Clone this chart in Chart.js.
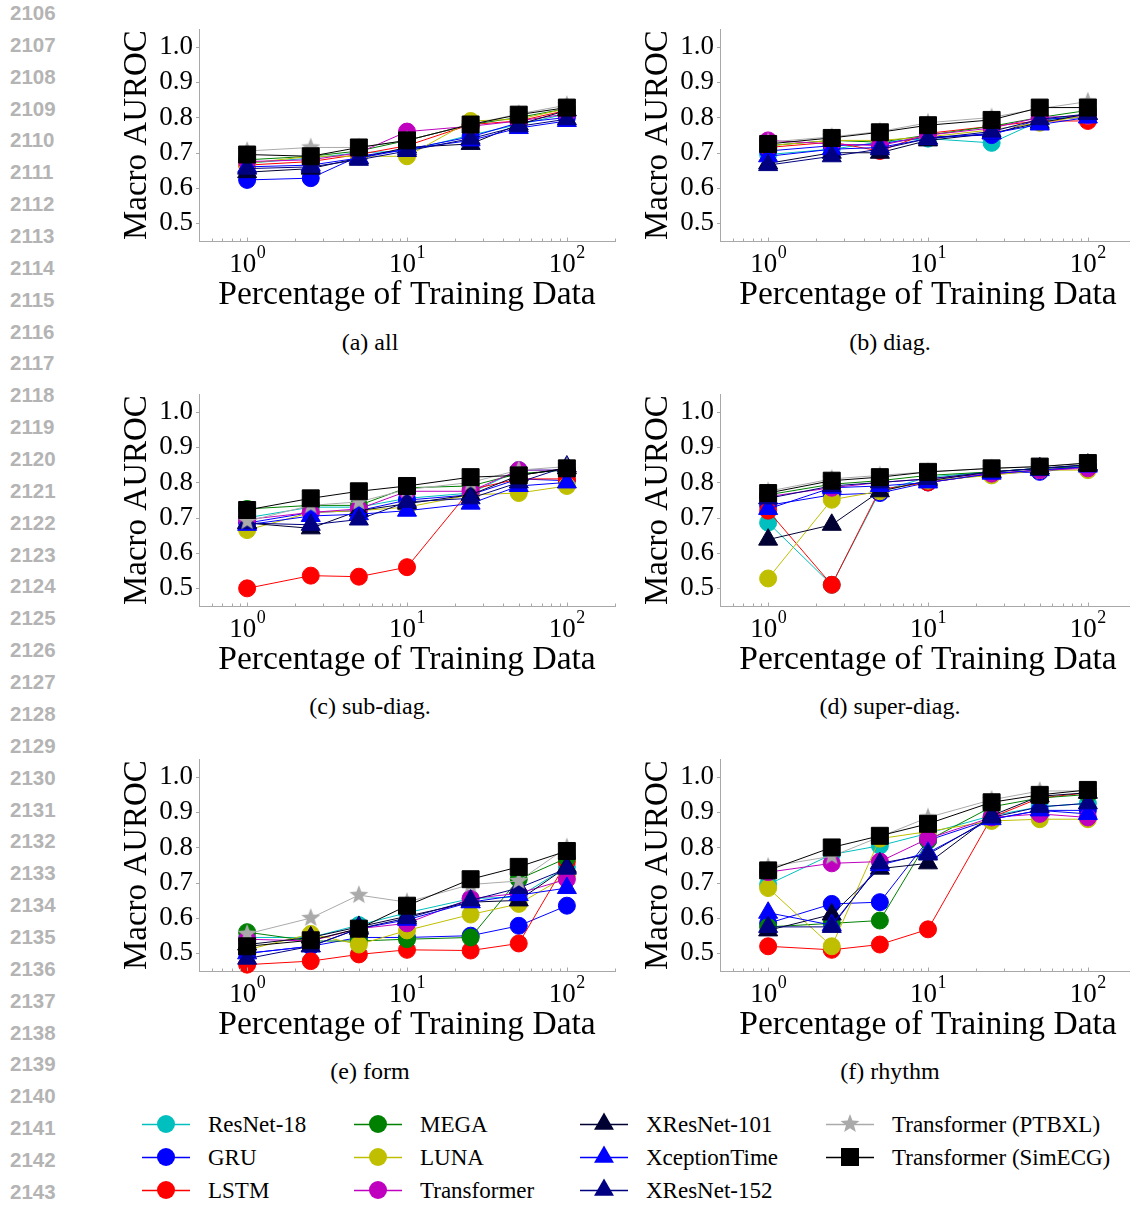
<!DOCTYPE html>
<html>
<head>
<meta charset="utf-8">
<script src="https://cdn.jsdelivr.net/npm/chart.js@4.4.0/dist/chart.umd.min.js"></script>
<style>
  html, body { margin: 0; padding: 0; width: 1130px; height: 1205px; overflow: hidden; background: #fff; }
  canvas.panel { position: absolute; }
  .caption { position: absolute; font-family: 'Liberation Serif', 'Times New Roman', serif; font-size: 24px;
             transform: translate(-50%, -50%); white-space: nowrap; line-height: 1; color: #000; }
  .lineno { position: absolute; left: 10px; font-family: 'Liberation Sans', Arial, sans-serif; font-weight: bold;
            font-size: 20.5px; color: #b4b4b4; line-height: 1; transform: translateY(-50%); }
  .legend-icon { position: absolute; }
  .legend-text { position: absolute; font-family: 'Liberation Serif', 'Times New Roman', serif; font-size: 23px;
                 transform: translateY(-50%); white-space: nowrap; line-height: 1; }
</style>
</head>
<body>
<canvas id="pAll" class="panel" width="520" height="320" style="left:115px;top:7px"></canvas>
<canvas id="pDiag" class="panel" width="520" height="320" style="left:636px;top:7px"></canvas>
<canvas id="pSub" class="panel" width="520" height="320" style="left:115px;top:372px"></canvas>
<canvas id="pSuper" class="panel" width="520" height="320" style="left:636px;top:372px"></canvas>
<canvas id="pForm" class="panel" width="520" height="320" style="left:115px;top:737px"></canvas>
<canvas id="pRhythm" class="panel" width="520" height="320" style="left:636px;top:737px"></canvas>

<div class="caption" style="left:370px;top:342px">(a) all</div>
<div class="caption" style="left:890px;top:342px">(b) diag.</div>
<div class="caption" style="left:370px;top:706px">(c) sub-diag.</div>
<div class="caption" style="left:890px;top:706px">(d) super-diag.</div>
<div class="caption" style="left:370px;top:1071px">(e) form</div>
<div class="caption" style="left:890px;top:1071px">(f) rhythm</div>

<div id="legend"></div>
<div id="linenos"></div>

<script>
// x positions (percentage of training data)
const percentages = [1, 2.5, 5, 10, 25, 50, 100];

const models = ['ResNet-18', 'GRU', 'LSTM', 'MEGA', 'LUNA', 'Transformer',
                'XResNet-101', 'XceptionTime', 'XResNet-152',
                'Transformer (PTBXL)', 'Transformer (SimECG)'];

const yTickValues = [0.5, 0.6, 0.7, 0.8, 0.9, 1.0];
const xTickValues = [1, 10, 100];

// macro AUROC per model (rows in the order of `models`)
const aucAll = [
    [0.67, 0.685, 0.70, 0.705, 0.75, 0.78, 0.81],
    [0.623, 0.628, 0.69, 0.71, 0.745, 0.785, 0.80],
    [0.665, 0.675, 0.695, 0.72, 0.78, 0.79, 0.82],
    [0.68, 0.69, 0.705, 0.735, 0.78, 0.80, 0.825],
    [0.67, 0.69, 0.69, 0.69, 0.79, 0.795, 0.825],
    [0.675, 0.68, 0.70, 0.76, 0.775, 0.79, 0.81],
    [0.645, 0.655, 0.685, 0.715, 0.725, 0.78, 0.82],
    [0.66, 0.665, 0.685, 0.71, 0.735, 0.77, 0.79],
    [0.655, 0.66, 0.68, 0.705, 0.74, 0.775, 0.795],
    [0.705, 0.715, 0.715, 0.735, 0.78, 0.81, 0.835],
    [0.695, 0.69, 0.715, 0.735, 0.78, 0.808, 0.828]
];

const aucDiag = [
    [0.695, 0.71, 0.73, 0.74, 0.728, 0.79, 0.81],
    [0.705, 0.72, 0.725, 0.745, 0.75, 0.795, 0.80],
    [0.715, 0.73, 0.705, 0.755, 0.775, 0.79, 0.79],
    [0.72, 0.735, 0.73, 0.75, 0.775, 0.80, 0.82],
    [0.72, 0.735, 0.735, 0.745, 0.765, 0.785, 0.805],
    [0.735, 0.725, 0.72, 0.75, 0.77, 0.80, 0.805],
    [0.67, 0.70, 0.70, 0.735, 0.755, 0.785, 0.81],
    [0.69, 0.71, 0.715, 0.74, 0.755, 0.78, 0.80],
    [0.665, 0.69, 0.71, 0.74, 0.76, 0.795, 0.81],
    [0.73, 0.745, 0.76, 0.785, 0.80, 0.825, 0.845],
    [0.725, 0.742, 0.758, 0.778, 0.793, 0.828, 0.828]
];

const aucSubDiag = [
    [0.70, 0.73, 0.73, 0.755, 0.77, 0.835, 0.835],
    [0.685, 0.715, 0.72, 0.75, 0.765, 0.81, 0.805],
    [0.50, 0.536, 0.533, 0.56, 0.78, 0.81, 0.81],
    [0.725, 0.735, 0.735, 0.785, 0.79, 0.825, 0.835],
    [0.665, 0.715, 0.72, 0.73, 0.765, 0.77, 0.79],
    [0.695, 0.715, 0.725, 0.775, 0.775, 0.835, 0.835],
    [0.685, 0.67, 0.72, 0.74, 0.765, 0.82, 0.84],
    [0.68, 0.705, 0.71, 0.72, 0.74, 0.79, 0.80],
    [0.685, 0.68, 0.695, 0.745, 0.755, 0.80, 0.845],
    [0.69, 0.735, 0.745, 0.78, 0.80, 0.835, 0.845],
    [0.722, 0.755, 0.775, 0.79, 0.815, 0.82, 0.84]
];

const aucSuperDiag = [
    [0.686, 0.51, 0.775, 0.815, 0.83, 0.84, 0.845],
    [0.735, 0.765, 0.77, 0.80, 0.825, 0.83, 0.845],
    [0.72, 0.51, 0.78, 0.80, 0.825, 0.835, 0.845],
    [0.765, 0.795, 0.805, 0.82, 0.83, 0.84, 0.845],
    [0.528, 0.751, 0.775, 0.805, 0.82, 0.835, 0.835],
    [0.76, 0.785, 0.80, 0.81, 0.825, 0.835, 0.84],
    [0.638, 0.68, 0.775, 0.805, 0.83, 0.84, 0.85],
    [0.725, 0.785, 0.79, 0.80, 0.825, 0.835, 0.845],
    [0.755, 0.79, 0.80, 0.81, 0.83, 0.84, 0.85],
    [0.775, 0.81, 0.82, 0.83, 0.84, 0.845, 0.855],
    [0.77, 0.805, 0.815, 0.83, 0.84, 0.845, 0.855]
];

const aucForm = [
    [0.545, 0.545, 0.58, 0.615, 0.655, 0.66, 0.745],
    [0.50, 0.52, 0.545, 0.545, 0.55, 0.578, 0.635],
    [0.468, 0.478, 0.497, 0.51, 0.508, 0.528, 0.76],
    [0.56, 0.535, 0.535, 0.54, 0.545, 0.71, 0.77],
    [0.51, 0.555, 0.525, 0.565, 0.61, 0.64, 0.72],
    [0.54, 0.535, 0.57, 0.585, 0.655, 0.67, 0.71],
    [0.525, 0.545, 0.575, 0.605, 0.645, 0.65, 0.745],
    [0.50, 0.52, 0.57, 0.595, 0.645, 0.665, 0.685],
    [0.485, 0.52, 0.57, 0.60, 0.65, 0.685, 0.74],
    [0.555, 0.60, 0.665, 0.645, 0.695, 0.705, 0.80],
    [0.52, 0.537, 0.57, 0.635, 0.71, 0.745, 0.79]
];

const aucRhythm = [
    [0.695, 0.78, 0.805, 0.84, 0.89, 0.915, 0.925],
    [0.585, 0.64, 0.645, 0.82, 0.88, 0.905, 0.905],
    [0.52, 0.51, 0.525, 0.568, 0.885, 0.94, 0.955],
    [0.575, 0.585, 0.593, 0.82, 0.915, 0.94, 0.95],
    [0.685, 0.52, 0.825, 0.845, 0.875, 0.88, 0.88],
    [0.73, 0.755, 0.76, 0.825, 0.885, 0.895, 0.885],
    [0.565, 0.61, 0.74, 0.755, 0.89, 0.945, 0.955],
    [0.615, 0.58, 0.75, 0.785, 0.88, 0.905, 0.895],
    [0.575, 0.575, 0.755, 0.78, 0.885, 0.915, 0.925],
    [0.745, 0.775, 0.83, 0.885, 0.935, 0.96, 0.96],
    [0.735, 0.80, 0.833, 0.867, 0.928, 0.949, 0.963]
];

const colors = ['#00bfbf', '#0000ff', '#ff0000', '#008000', '#bfbf00', '#bf00bf',
                '#000033', '#0000ff', '#000080', '#aaaaaa', '#000000'];
const markerKinds = ['circle', 'circle', 'circle', 'circle', 'circle', 'circle',
                     'triangle', 'triangle', 'triangle', 'star', 'rect'];
const markerRadius = { circle: 8.5, triangle: 11, rect: 12, star: 10 };

const serif = "'Liberation Serif', 'Times New Roman', serif";
const axisColor = '#a8a8a8';

function starImage(color, r) {
    const c = document.createElement('canvas');
    const s = Math.ceil(r * 2 + 2);
    c.width = s; c.height = s;
    const g = c.getContext('2d');
    g.fillStyle = color;
    g.beginPath();
    for (let k = 0; k < 10; k++) {
        const rad = k % 2 === 0 ? r : r * 0.42;
        const a = -Math.PI / 2 + k * Math.PI / 5;
        g.lineTo(s / 2 + rad * Math.cos(a), s / 2 + rad * Math.sin(a));
    }
    g.closePath();
    g.fill();
    return c;
}
const star = starImage('#aaaaaa', markerRadius.star);

// minor ticks on the log axis
const xMinor = [];
for (let e = -1; e <= 2; e++) {
    for (let m = 1; m <= 9; m++) {
        const v = m * Math.pow(10, e);
        if (v >= 0.5 && v <= 200) xMinor.push(v);
    }
}

// inward x ticks, outward y ticks, and 10^n labels with a raised exponent
const axisDecor = {
    id: 'axisDecor',
    afterDraw(chart) {
        const { ctx, chartArea, scales } = chart;
        ctx.save();
        ctx.strokeStyle = axisColor;
        ctx.lineWidth = 1;
        ctx.beginPath();
        xMinor.forEach(v => {
            const px = Math.round(scales.x.getPixelForValue(v)) + 0.5;
            const len = xTickValues.includes(v) ? 3.5 : 2.5;
            ctx.moveTo(px, chartArea.bottom);
            ctx.lineTo(px, chartArea.bottom - len);
        });
        yTickValues.forEach(v => {
            const py = Math.round(scales.y.getPixelForValue(v)) + 0.5;
            ctx.moveTo(chartArea.left, py);
            ctx.lineTo(chartArea.left - 3, py);
        });
        ctx.stroke();

        ctx.fillStyle = '#000';
        ctx.textBaseline = 'alphabetic';
        ctx.textAlign = 'left';
        xTickValues.forEach(v => {
            const base = '10';
            const expo = String(Math.round(Math.log10(v)));
            ctx.font = '27px ' + serif;
            const wb = ctx.measureText(base).width;
            ctx.font = '18px ' + serif;
            const we = ctx.measureText(expo).width;
            const x0 = scales.x.getPixelForValue(v) - (wb + we) / 2;
            ctx.font = '27px ' + serif;
            ctx.fillText(base, x0, chartArea.bottom + 31);
            ctx.font = '18px ' + serif;
            ctx.fillText(expo, x0 + wb + 0.5, chartArea.bottom + 17);
        });
        ctx.restore();
    }
};

function drawPanel(id, values) {
    const datasets = models.map((name, i) => {
        const kind = markerKinds[i];
        return {
            label: name,
            data: percentages.map((p, j) => ({ x: p, y: values[i][j] })),
            borderColor: colors[i],
            backgroundColor: colors[i],
            borderWidth: 1,
            pointStyle: kind === 'star' ? star : kind,
            pointRadius: markerRadius[kind],
            pointBorderWidth: 1,
            pointBorderColor: colors[i],
            pointBackgroundColor: colors[i],
            tension: 0,
            clip: false,
            order: models.length - i
        };
    });

    return new Chart(document.getElementById(id), {
        type: 'line',
        data: { datasets: datasets },
        options: {
            responsive: false,
            animation: false,
            devicePixelRatio: 1,
            layout: { padding: { top: 0, right: 20, left: 0, bottom: 0 } },
            plugins: {
                legend: { display: false },
                tooltip: { enabled: false }
            },
            scales: {
                x: {
                    type: 'logarithmic',
                    min: 0.5,
                    max: 200,
                    grid: { display: false, drawTicks: false },
                    border: { display: true, color: axisColor, width: 1 },
                    afterBuildTicks: scale => { scale.ticks = xTickValues.map(v => ({ value: v })); },
                    afterFit: scale => { scale.height = 86; },
                    ticks: { display: false },
                    title: {
                        display: true,
                        text: 'Percentage of Training Data',
                        color: '#000',
                        font: { family: serif, size: 33.5 },
                        padding: { top: 0, bottom: 12 }
                    }
                },
                y: {
                    min: 0.45,
                    max: 1.05,
                    grid: { display: false, drawTicks: false },
                    border: { display: true, color: axisColor, width: 1 },
                    afterBuildTicks: scale => { scale.ticks = yTickValues.map(v => ({ value: v })); },
                    afterFit: scale => { scale.width = 84; },
                    ticks: {
                        padding: 6,
                        color: '#000',
                        font: { family: serif, size: 27 },
                        callback: v => Number(v).toFixed(1)
                    },
                    title: {
                        display: true,
                        text: 'Macro AUROC',
                        color: '#000',
                        font: { family: serif, size: 33 },
                        padding: { top: 3, bottom: 0 }
                    }
                }
            }
        },
        plugins: [axisDecor]
    });
}

drawPanel('pAll', aucAll);
drawPanel('pDiag', aucDiag);
drawPanel('pSub', aucSubDiag);
drawPanel('pSuper', aucSuperDiag);
drawPanel('pForm', aucForm);
drawPanel('pRhythm', aucRhythm);

// legend: 4 columns, filled top to bottom
const legendCols = [166, 378, 604, 850];
const legendRows = [1124, 1157, 1190];
const legendBox = document.getElementById('legend');

function drawMarker(g, kind, color, x, y) {
    const r = markerRadius[kind];
    g.fillStyle = color;
    if (kind === 'star') {
        g.drawImage(star, x - star.width / 2, y - star.height / 2);
        return;
    }
    g.beginPath();
    if (kind === 'circle') {
        g.arc(x, y, r + 0.5, 0, Math.PI * 2);
    } else if (kind === 'triangle') {
        for (let k = 0; k < 3; k++) {
            const a = k * 2 * Math.PI / 3;
            g.lineTo(x + Math.sin(a) * (r + 0.5), y - Math.cos(a) * (r + 0.5));
        }
        g.closePath();
    } else {
        const s = Math.SQRT1_2 * r + 0.5;
        g.rect(x - s, y - s, 2 * s, 2 * s);
    }
    g.fill();
}

models.forEach((name, i) => {
    const cx = legendCols[Math.floor(i / 3)];
    const cy = legendRows[i % 3];
    const c = document.createElement('canvas');
    c.width = 60; c.height = 32;
    c.className = 'legend-icon';
    c.style.left = (cx - 30) + 'px';
    c.style.top = (cy - 16) + 'px';
    const g = c.getContext('2d');
    g.strokeStyle = colors[i];
    g.lineWidth = 1.5;
    g.beginPath();
    g.moveTo(6, 16.5);
    g.lineTo(54, 16.5);
    g.stroke();
    drawMarker(g, markerKinds[i], colors[i], 30, 16);
    legendBox.appendChild(c);

    const t = document.createElement('div');
    t.className = 'legend-text';
    t.textContent = name;
    t.style.left = (cx + 42) + 'px';
    t.style.top = cy + 'px';
    legendBox.appendChild(t);
});

// line numbers of the page margin
const linenoBox = document.getElementById('linenos');
for (let k = 0; k <= 37; k++) {
    const d = document.createElement('div');
    d.className = 'lineno';
    d.textContent = String(2106 + k);
    d.style.top = (13 + k * 31.86) + 'px';
    linenoBox.appendChild(d);
}
</script>
</body>
</html>
